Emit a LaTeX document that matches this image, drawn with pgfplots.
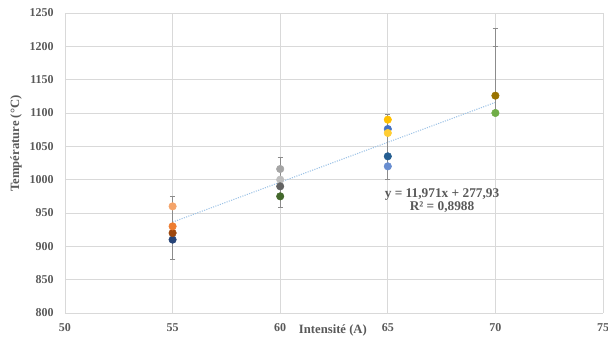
\documentclass[border=0pt]{standalone}
\usepackage{fontspec}
\setmainfont{Liberation Serif}
\usepackage{pgfplots}
\pgfplotsset{compat=1.18}
\definecolor{txt}{HTML}{595959}
\definecolor{gridc}{HTML}{D9D9D9}
\definecolor{errc}{HTML}{8C8C8C}
\definecolor{trend}{HTML}{9DC3E6}
\pgfplotsset{
  pt/.style={only marks, mark=*, mark size=2.8pt},
  eb/.style={only marks, mark=*, mark size=2.8pt,
    error bars/y dir=both, error bars/y explicit,
    error bars/error bar style={errc, line width=0.6pt},
    error bars/error mark options={errc, mark size=2pt, line width=0.6pt, rotate=90}},
}
\begin{document}
\begin{tikzpicture}
\path[use as bounding box] (-48.75pt,-18.75pt) rectangle (407.25pt,234.75pt);
\begin{axis}[
  scale only axis, width=403.5pt, height=225pt,
  at={(0,0)}, anchor=south west,
  xmin=50, xmax=75, ymin=800, ymax=1250,
  xtick={50,55,...,75}, ytick={800,850,...,1250},
  grid=major, major grid style={gridc, line width=0.6pt},
  axis line style={gridc, line width=0.6pt},
  axis x line*=bottom, axis y line*=left,
  tick style={draw=none},
  /pgf/number format/assume math mode=true,
  /pgf/number format/1000 sep={},
  ticklabel style={font=\bfseries\fontsize{9}{10}\selectfont, text=txt},
  xticklabel style={yshift=-4.5pt},
  yticklabel style={xshift=-5pt},
  xlabel={Intensité (A)},
  ylabel={Température (°C)},
  xlabel style={font=\bfseries\fontsize{9.5}{10}\selectfont, text=txt, at={(axis description cs:0.498,0)}, anchor=center, yshift=-13pt},
  ylabel style={font=\bfseries\fontsize{9.5}{10}\selectfont, text=txt, at={(axis description cs:0,0.565)}, anchor=center, yshift=36.75pt},
  clip=false,
]
% trend line
\addplot[trend, densely dotted, line width=0.8pt, mark=none] coordinates {(55,936.34) (70,1115.90)};
% points carrying error bars (drawn first)
\addplot[eb, color={rgb,255:red,38;green,68;blue,120}] coordinates {(55,910) += (0,65) -= (0,30)};
\addplot[eb, color={rgb,255:red,190;green,190;blue,190}] coordinates {(60,1000) += (0,33) -= (0,42)};
\addplot[eb, color={rgb,255:red,105;green,142;blue,208}] coordinates {(65,1020) += (0,78) -= (0,19)};
\addplot[eb, color={rgb,255:red,112;green,173;blue,71}] coordinates {(70,1100) += (0,100) -= (0,0)};
\addplot[eb, color={rgb,255:red,153;green,115;blue,0}] coordinates {(70,1126) += (0,101) -= (0,0)};
% other points
\addplot[pt, color={rgb,255:red,158;green,72;blue,14}] coordinates {(55,920)};
\addplot[pt, color={rgb,255:red,237;green,125;blue,49}] coordinates {(55,930)};
\addplot[pt, color={rgb,255:red,244;green,164;blue,106}] coordinates {(55,960)};
\addplot[pt, color={rgb,255:red,165;green,165;blue,165}] coordinates {(60,1016)};
\addplot[pt, color={rgb,255:red,99;green,99;blue,99}] coordinates {(60,990)};
\addplot[pt, color={rgb,255:red,67;green,104;blue,43}] coordinates {(60,975)};
\addplot[pt, color={rgb,255:red,37;green,94;blue,145}] coordinates {(65,1035)};
\addplot[pt, color={rgb,255:red,255;green,192;blue,0}] coordinates {(65,1090)};
\addplot[pt, color={rgb,255:red,68;green,114;blue,196}] coordinates {(65,1076)};
\addplot[pt, color={rgb,255:red,255;green,205;blue,51}] coordinates {(65,1070)};
\node[font=\bfseries\fontsize{10}{11}\selectfont, text=txt] at (axis cs:67.52,978) {y = 11,971x + 277,93};
\node[font=\bfseries\fontsize{10}{11}\selectfont, text=txt] at (axis cs:67.52,959.5) {R² = 0,8988};
\end{axis}
\end{tikzpicture}
\end{document}
